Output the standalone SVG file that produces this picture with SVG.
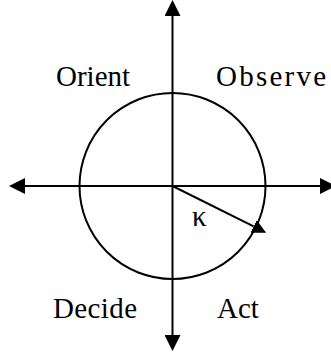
<svg xmlns="http://www.w3.org/2000/svg" width="331" height="352" viewBox="0 0 331 352">
<style>
.ax{stroke:#000;stroke-width:2;fill:none}
.lbl{font-family:"Liberation Serif","Times New Roman","DejaVu Serif",serif;font-size:29px;fill:#000}
</style>
<defs>
<marker id="ah" markerUnits="userSpaceOnUse" markerWidth="16" markerHeight="16" refX="0" refY="8" orient="auto-start-reverse" viewBox="0 0 16 16"><path d="M0,0 L16,8 L0,16 z" fill="#000"/></marker>
<marker id="ah2" markerUnits="userSpaceOnUse" markerWidth="14" markerHeight="14" refX="0" refY="7" orient="auto" viewBox="0 0 14 14"><path d="M0,0 L14,7 L0,14 z" fill="#000"/></marker>
</defs>
<g id="circle"><circle class="ax" cx="172.5" cy="186" r="93"/></g>
<g id="connectors">
<line class="ax" x1="172.5" y1="16" x2="172.5" y2="335" marker-start="url(#ah)" marker-end="url(#ah)"/>
<line class="ax" x1="25" y1="186" x2="320" y2="186" marker-start="url(#ah)" marker-end="url(#ah)"/>
<line class="ax" x1="172.5" y1="186" x2="253.6" y2="226.4" marker-end="url(#ah2)"/>
</g>
<g id="orient"><text class="lbl" x="56" y="86">Orient</text></g>
<g id="observe"><text class="lbl" x="216" y="86" textLength="110" lengthAdjust="spacing">Observe</text></g>
<g id="decide"><text class="lbl" x="53" y="318" textLength="84" lengthAdjust="spacing">Decide</text></g>
<g id="act"><text class="lbl" x="217" y="318">Act</text></g>
<g id="kappa"><text class="lbl" x="192" y="226">κ</text></g>
</svg>
